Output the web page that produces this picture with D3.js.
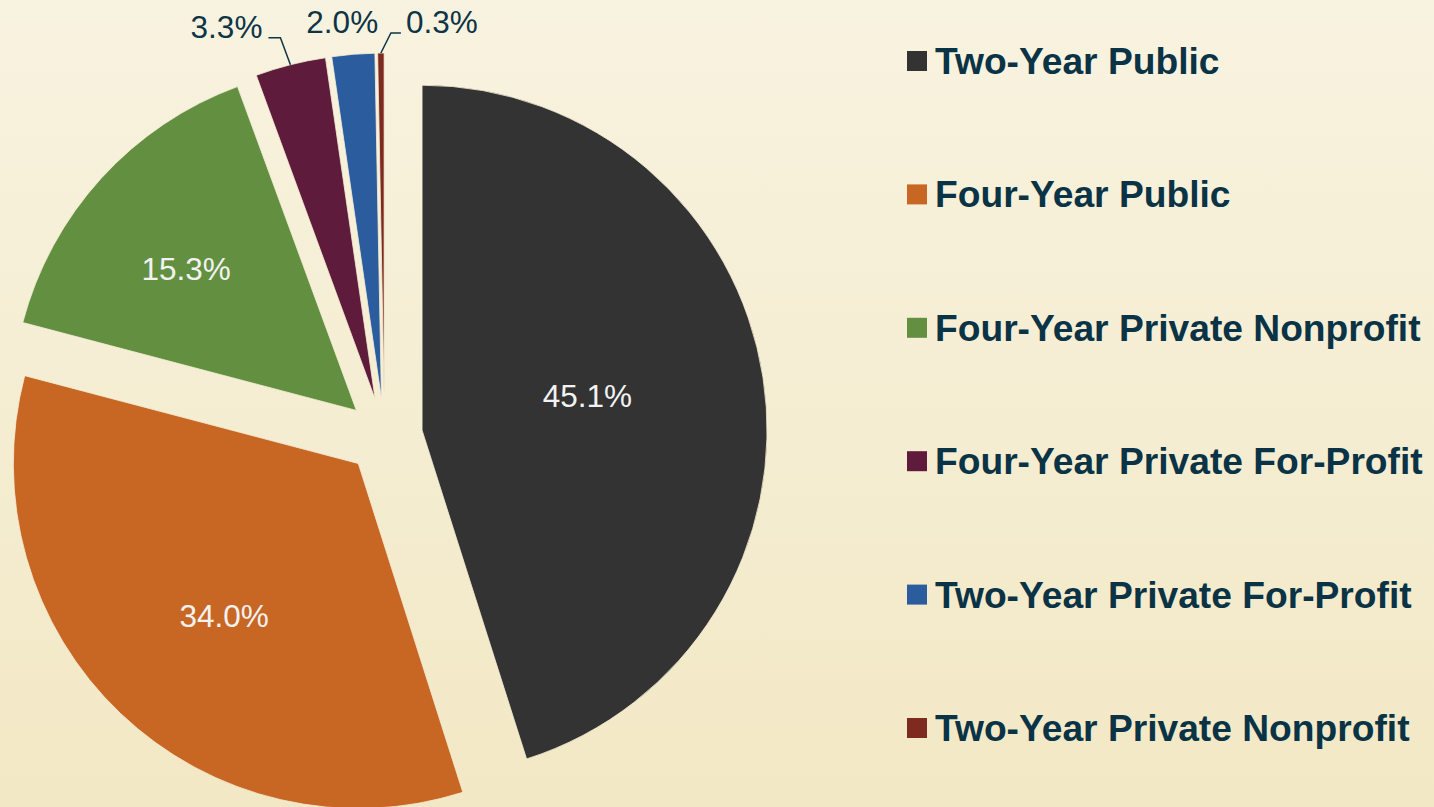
<!DOCTYPE html>
<html>
<head>
<meta charset="utf-8">
<script src="https://cdn.jsdelivr.net/npm/d3@7"></script>
<style>
  html, body { margin: 0; padding: 0; }
  body { width: 1434px; height: 807px; overflow: hidden; }
  svg { display: block; font-family: Arial, "Liberation Sans", sans-serif; }
</style>
</head>
<body>
<svg id="chart" width="1434" height="807"></svg>
<script>
// Data
const categories = [
  "Two-Year Public",
  "Four-Year Public",
  "Four-Year Private Nonprofit",
  "Four-Year Private For-Profit",
  "Two-Year Private For-Profit",
  "Two-Year Private Nonprofit"
];
const shares = [45.1, 34.0, 15.3, 3.3, 2.0, 0.3];
const shareLabels = ["45.1%", "34.0%", "15.3%", "3.3%", "2.0%", "0.3%"];

const colors = ["#333333", "#C86724", "#629040", "#5E1B3B", "#2A5C9E", "#7E2A1F"];

const width = 1434;
const height = 807;
const cx = 384.5;
const cy = 436;
const radius = 345;
const explode = 38;

// label layout: inside labels sit on a fraction of the radius (plus a small nudge),
// outside ones use a leader line
const insideLabelRadius = [0.485, 0.59, 0.64];
const insideLabelNudge = [[0, -9], [6, 5], [-7, 7]];
// outside labels: elbow + end of leader, and text anchor, relative to the arc point
const outsideLayout = {
  3: { leader: [[-10, -27], [-22, -27]], text: [-28, -38], anchor: "end" },
  4: { leader: null, text: [-11, -32], anchor: "middle" },
  5: { leader: [[10, -20], [20, -20]], text: [25, -31], anchor: "start" }
};

let svg = d3.select("#chart");

// background gradient
const defs = svg.append("defs");
const grad = defs.append("linearGradient")
  .attr("id", "bg").attr("x1", 0).attr("y1", 0).attr("x2", 0).attr("y2", 1);
grad.append("stop").attr("offset", "0%").attr("stop-color", "#F8F3E0");
grad.append("stop").attr("offset", "100%").attr("stop-color", "#F2E8C5");
svg.append("rect").attr("width", width).attr("height", height).attr("fill", "url(#bg)");

const pie = d3.pie().sort(null).value(d => d).startAngle(0).endAngle(2 * Math.PI);
const arcs = pie(shares);
const arc = d3.arc().innerRadius(0).outerRadius(radius);

function midAngle(d) { return (d.startAngle + d.endAngle) / 2; }
function sliceCenter(d) {
  const a = midAngle(d);
  return [cx + explode * Math.sin(a), cy - explode * Math.cos(a)];
}
function polar(d, r) {
  const a = midAngle(d);
  const c = sliceCenter(d);
  return [c[0] + r * Math.sin(a), c[1] - r * Math.cos(a)];
}

// slices
svg.append("g")
  .selectAll("path")
  .data(arcs)
  .join("path")
  .attr("transform", d => `translate(${sliceCenter(d)})`)
  .attr("d", arc)
  .attr("fill", (d, i) => colors[i])
  .attr("stroke", "#F6EFD6")
  .attr("stroke-width", 0.8);

// inside labels
svg.append("g")
  .selectAll("text")
  .data(arcs.slice(0, 3))
  .join("text")
  .attr("x", (d, i) => polar(d, radius * insideLabelRadius[i])[0] + insideLabelNudge[i][0])
  .attr("y", (d, i) => polar(d, radius * insideLabelRadius[i])[1] + insideLabelNudge[i][1])
  .attr("dy", "0.35em")
  .attr("text-anchor", "middle")
  .attr("font-size", 31.5)
  .attr("fill", "#F2F2F2")
  .text((d, i) => shareLabels[i]);

// outside labels with leader lines
const outer = svg.append("g");
arcs.forEach((d, i) => {
  const lay = outsideLayout[i];
  if (!lay) return;
  const p = polar(d, radius);
  if (lay.leader) {
    const pts = [p].concat(lay.leader.map(o => [p[0] + o[0], p[1] + o[1]]));
    outer.append("path")
      .attr("d", d3.line()(pts))
      .attr("fill", "none")
      .attr("stroke", "#0E3446")
      .attr("stroke-width", 1.5);
  }
  outer.append("text")
    .attr("x", p[0] + lay.text[0])
    .attr("y", p[1] + lay.text[1])
    .attr("dy", "0.35em")
    .attr("text-anchor", lay.anchor)
    .attr("font-size", 31.5)
    .attr("fill", "#0E3446")
    .text(shareLabels[i]);
});

// legend
const legendY = d3.scalePoint().domain(categories).range([61, 728]);
const legend = svg.append("g")
  .selectAll("g")
  .data(categories)
  .join("g")
  .attr("transform", d => `translate(907, ${legendY(d)})`);

legend.append("rect")
  .attr("x", 0)
  .attr("y", -10)
  .attr("width", 20)
  .attr("height", 20)
  .attr("fill", (d, i) => colors[i]);

legend.append("text")
  .attr("x", 28)
  .attr("dy", "0.35em")
  .attr("font-size", 37.2)
  .attr("font-weight", "bold")
  .attr("fill", "#0B3346")
  .text(d => d);
</script>
</body>
</html>
